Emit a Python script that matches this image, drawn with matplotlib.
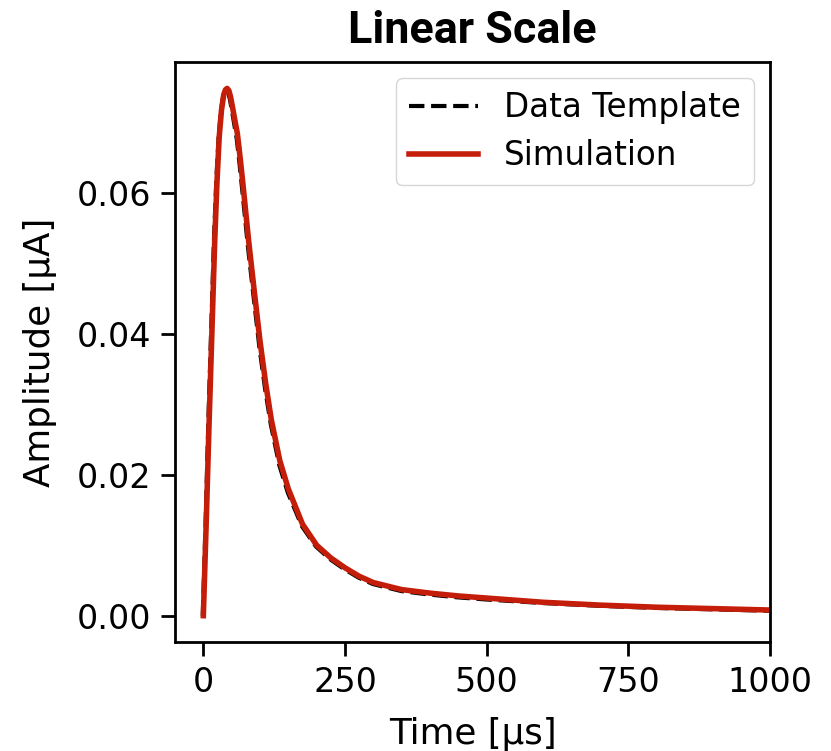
import numpy as np
import matplotlib
matplotlib.use('Agg')
import matplotlib.pyplot as plt

# Pulse shape (time in us, amplitude in uA)
sim_time = [0, 5, 10, 15, 20, 24, 28, 32, 36, 39, 42, 45, 48, 52, 56,
            60, 65, 70, 80, 90, 100, 110, 120, 135, 150, 175, 200, 225,
            250, 275, 300, 350, 400, 450, 500, 600, 700, 800, 900, 1000]
sim_amp = [0.0, 0.013, 0.027, 0.040, 0.053, 0.0615, 0.0680, 0.0718,
           0.0740, 0.0747, 0.0749, 0.0746, 0.0737, 0.0720, 0.0702, 0.0685,
           0.0650, 0.0612, 0.0532, 0.0460, 0.0390, 0.0330, 0.0278, 0.0220,
           0.0180, 0.0130, 0.0100, 0.0082, 0.0068, 0.0056, 0.0047, 0.0037,
           0.0032, 0.0028, 0.0025, 0.0019, 0.0015, 0.0012, 0.0010, 0.0008]

tmpl_time = [-1, 4, 9, 14, 19, 23, 27, 31, 35, 38, 41, 44, 47, 51, 55,
             59, 64, 69, 79, 89, 99, 109, 119, 134, 149, 174, 199, 224,
             249, 274, 299, 349, 399, 449, 499, 599, 699, 799, 899, 1000]
tmpl_amp = [0.0, 0.013, 0.028, 0.041, 0.054, 0.0620, 0.0680, 0.0716,
            0.0738, 0.0745, 0.0747, 0.0743, 0.0733, 0.0715, 0.0696, 0.0677,
            0.0641, 0.0602, 0.0522, 0.0451, 0.0381, 0.0322, 0.0272, 0.0214,
            0.0175, 0.0127, 0.0098, 0.0080, 0.0066, 0.0054, 0.0045, 0.0035,
            0.0030, 0.0026, 0.0023, 0.0018, 0.0014, 0.0011, 0.0009, 0.0007]

y_ticks = [0.00, 0.02, 0.04, 0.06]
x_ticks = [0, 250, 500, 750, 1000]

fig = plt.figure(figsize=(8.31, 7.51), dpi=100)
ax = fig.add_axes([0.2106, 0.1451, 0.716, 0.7723])

ax.plot(tmpl_time, tmpl_amp, '--', color='black', lw=3, label='Data Template')
ax.plot(sim_time, sim_amp, '-', color='#c41e0a', lw=4, label='Simulation')

ax.set_xlim(-50, 1000)
ax.set_xticks(x_ticks)
ax.set_yticks(y_ticks)
ax.set_yticklabels([f'{v:.2f}' for v in y_ticks])

ax.tick_params(labelsize=24, length=10, width=2, pad=7)
for sp in ax.spines.values():
    sp.set_linewidth(2)

ax.set_xlabel('Time [µs]', fontsize=25.7, labelpad=13)
ax.set_ylabel('Amplitude [µA]', fontsize=25.7, labelpad=14)
ax.set_title('Linear Scale', fontsize=32.3, fontweight='bold', family='Roboto', pad=14)

ax.legend(loc='upper right', fontsize=23.5, handlelength=2.1, labelspacing=0.45)

fig.savefig('out.png', dpi=100)
